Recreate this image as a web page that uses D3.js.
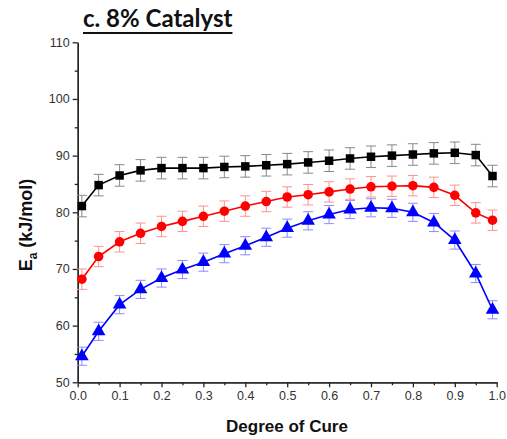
<!DOCTYPE html>
<html>
<head>
<meta charset="utf-8">
<script src="https://cdn.jsdelivr.net/npm/d3@7"></script>
<style>
  html, body { margin: 0; padding: 0; background: #fff; }
  svg { display: block; }
</style>
</head>
<body>
<svg id="chart" width="507" height="439"></svg>
<script>
const xValues = [0.01, 0.05, 0.1, 0.15, 0.2, 0.25, 0.3, 0.35, 0.4, 0.45, 0.5, 0.55, 0.6, 0.65, 0.7, 0.75, 0.8, 0.85, 0.9, 0.95, 0.99];
const blackValues = [81.1, 84.8, 86.5, 87.4, 87.8, 87.8, 87.8, 88.0, 88.1, 88.3, 88.5, 88.8, 89.1, 89.5, 89.8, 90.0, 90.2, 90.4, 90.5, 90.1, 86.4];
const redValues = [68.2, 72.2, 74.8, 76.3, 77.5, 78.4, 79.3, 80.2, 81.1, 81.9, 82.7, 83.1, 83.6, 84.1, 84.5, 84.6, 84.7, 84.4, 83.0, 79.9, 78.6];
const blueValues = [54.6, 59.0, 63.7, 66.4, 68.4, 69.9, 71.2, 72.7, 74.1, 75.6, 77.2, 78.5, 79.6, 80.5, 80.8, 80.7, 80.0, 78.2, 75.1, 69.2, 62.8];
const blackErr = 1.9;
const redErr = 1.8;
const blueErr = 1.6;
const xTicks = [0, 0.1, 0.2, 0.3, 0.4, 0.5, 0.6, 0.7, 0.8, 0.9, 1.0];
const yTicks = [50, 60, 70, 80, 90, 100, 110];
const titleText = "c. 8% Catalyst";
const xTitle = "Degree of Cure";

const svg = d3.select("#chart");
const x = d3.scaleLinear().domain([0, 1]).range([77.7, 496.7]);
const y = d3.scaleLinear().domain([50, 110]).range([382.3, 42.3]);

const xAxis = d3.axisBottom(x).tickValues(xTicks).tickFormat(d3.format(".1f")).tickSize(5).tickSizeOuter(0).tickPadding(4);
const xMinor = d3.axisBottom(x).tickValues(d3.range(0.05, 1, 0.1)).tickFormat("").tickSize(3).tickSizeOuter(0);
const yAxis = d3.axisLeft(y).tickValues(yTicks).tickFormat(d3.format("d")).tickSize(5).tickSizeOuter(0).tickPadding(3);
const yMinor = d3.axisLeft(y).tickValues(d3.range(55, 110, 10)).tickFormat("").tickSize(3).tickSizeOuter(0);

function styleAxis(g) {
  g.select(".domain").attr("stroke", "#222").attr("stroke-width", 1.3);
  g.selectAll(".tick line").attr("stroke", "#222").attr("stroke-width", 1.3);
  g.selectAll(".tick text").attr("fill", "#333").style("font-family", "'Liberation Sans', Arial, sans-serif").style("font-size", "12.5px");
}
svg.append("g").attr("transform", `translate(0,${y(50)})`).call(xMinor).call(styleAxis);
svg.append("g").attr("transform", `translate(0,${y(50)})`).call(xAxis).call(styleAxis);
svg.append("g").attr("transform", `translate(${x(0)},0)`).call(yMinor).call(styleAxis);
svg.append("g").attr("transform", `translate(${x(0)},0)`).call(yAxis).call(styleAxis);

const series = [
  { values: blueValues, err: blueErr, color: "#0000ff", errColor: "#8c8cff", shape: d3.symbolTriangle, size: 80 },
  { values: redValues, err: redErr, color: "#ff0000", errColor: "#ff9090", shape: d3.symbolCircle, size: 72 },
  { values: blackValues, err: blackErr, color: "#000000", errColor: "#888888", shape: d3.symbolSquare, size: 72 }
];

const line = d3.line().x(d => x(d[0])).y(d => y(d[1]));

series.forEach(s => {
  const pts = xValues.map((xv, i) => [xv, s.values[i]]);
  const g = svg.append("g");
  const eb = g.append("g").attr("stroke", s.errColor).attr("stroke-width", 1);
  pts.forEach(p => {
    const cx = x(p[0]);
    const y1 = y(p[1] + s.err), y2 = y(p[1] - s.err);
    eb.append("line").attr("x1", cx).attr("x2", cx).attr("y1", y1).attr("y2", y2);
    eb.append("line").attr("x1", cx - 5).attr("x2", cx + 5).attr("y1", y1).attr("y2", y1);
    eb.append("line").attr("x1", cx - 5).attr("x2", cx + 5).attr("y1", y2).attr("y2", y2);
  });
  g.append("path").datum(pts).attr("d", line).attr("fill", "none").attr("stroke", s.color).attr("stroke-width", 1.6);
  g.selectAll(".m").data(pts).enter().append("path")
    .attr("transform", d => `translate(${x(d[0])},${y(d[1])})`)
    .attr("d", d3.symbol().type(s.shape).size(s.size))
    .attr("fill", s.color);
});

const title = svg.append("text")
  .attr("x", 83).attr("y", 27)
  .style("font-family", "Lato, 'Open Sans', sans-serif")
  .style("font-weight", "bold").style("font-size", "24px")
  .attr("fill", "#111")
  .text(titleText);
const tb = title.node().getBBox();
svg.append("line").attr("x1", tb.x).attr("x2", tb.x + tb.width).attr("y1", 33).attr("y2", 33)
  .attr("stroke", "#111").attr("stroke-width", 2);

svg.append("text")
  .attr("x", 287).attr("y", 432)
  .attr("text-anchor", "middle")
  .style("font-family", "'Liberation Sans', Arial, sans-serif")
  .style("font-weight", "bold").style("font-size", "17px")
  .attr("fill", "#111")
  .text(xTitle);

const yt = svg.append("text")
  .attr("transform", "translate(32,225) rotate(-90)")
  .attr("text-anchor", "middle")
  .style("font-family", "'Liberation Sans', Arial, sans-serif")
  .style("font-weight", "bold").style("font-size", "18px")
  .attr("fill", "#111");
yt.append("tspan").text("E");
yt.append("tspan").attr("dy", 5).style("font-size", "12px").text("a");
yt.append("tspan").attr("dy", -5).text(" (kJ/mol)");
</script>
</body>
</html>
